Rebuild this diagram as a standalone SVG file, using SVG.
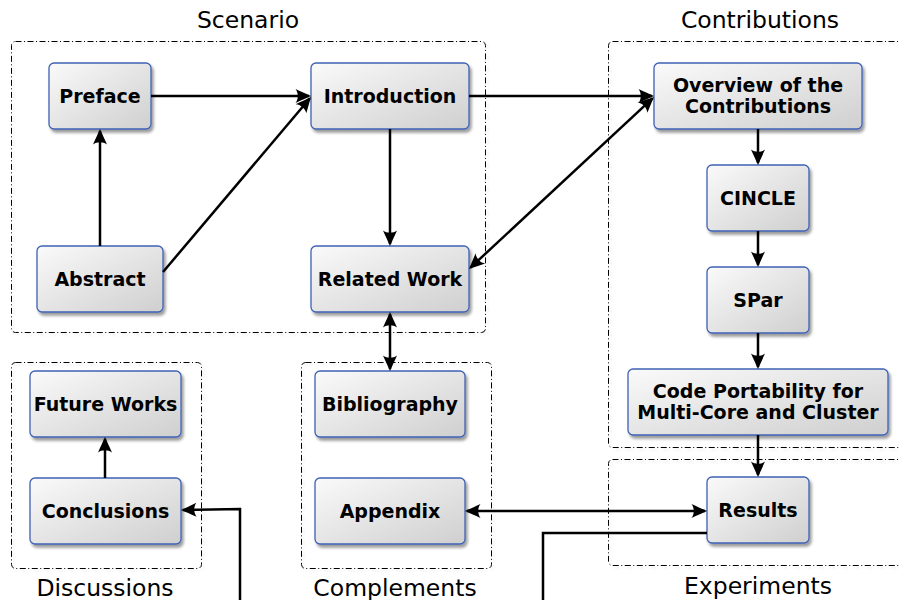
<svg xmlns="http://www.w3.org/2000/svg" width="899" height="600" viewBox="0 0 899 600">
<defs>
<linearGradient id="g" x1="0" y1="0" x2="1" y2="1">
<stop offset="0" stop-color="#fafafa"/>
<stop offset="1" stop-color="#cfcfcf"/>
</linearGradient>
<filter id="sh" x="-10%" y="-10%" width="130%" height="140%">
<feGaussianBlur in="SourceAlpha" stdDeviation="1.6"/>
<feOffset dx="2" dy="2.5" result="b"/>
<feComponentTransfer><feFuncA type="linear" slope="0.4"/></feComponentTransfer>
<feMerge><feMergeNode/><feMergeNode in="SourceGraphic"/></feMerge>
</filter>
<filter id="csh" x="-5%" y="-5%" width="110%" height="110%">
<feGaussianBlur in="SourceAlpha" stdDeviation="1.5"/>
<feOffset dx="1.5" dy="2"/>
<feComponentTransfer><feFuncA type="linear" slope="0.12"/></feComponentTransfer>
<feMerge><feMergeNode/><feMergeNode in="SourceGraphic"/></feMerge>
</filter>
<marker id="ah" markerUnits="userSpaceOnUse" viewBox="-16 -9 20 18" refX="0" refY="0" markerWidth="20" markerHeight="18" orient="auto-start-reverse" overflow="visible">
<path d="M2,0 C-2,-1.8 -8,-4.5 -13.5,-7 C-10.5,-3.2 -10.5,3.2 -13.5,7 C-8,4.5 -2,1.8 2,0 Z" fill="#000"/>
</marker>
<style>
.node rect{fill:url(#g);stroke:#3f62b5;stroke-width:1.3;filter:url(#sh)}
.node text{font-family:"DejaVu Sans",sans-serif;font-weight:bold;font-size:19px;text-anchor:middle;fill:#000}
.cont{fill:none;stroke:#000;stroke-width:1;stroke-dasharray:6,2.5,1,2.5;filter:url(#csh)}
.lbl{font-family:"DejaVu Sans",sans-serif;font-size:23.5px;text-anchor:middle;fill:#000}
.cn path{fill:none;stroke:#000;stroke-width:2.5}
</style>
</defs>
<rect width="899" height="600" fill="#fff"/>
<g id="containers">
<rect class="cont" x="11.5" y="41.5" width="474" height="291" rx="4"/>
<rect class="cont" x="608.5" y="41.5" width="310" height="406" rx="4"/>
<rect class="cont" x="608.5" y="459.5" width="310" height="106" rx="4"/>
<rect class="cont" x="11.5" y="362.5" width="190" height="206" rx="4"/>
<rect class="cont" x="301.5" y="362.5" width="190" height="206" rx="4"/>
<text class="lbl" x="248" y="28">Scenario</text>
<text class="lbl" x="760" y="28">Contributions</text>
<text class="lbl" x="105" y="595.5">Discussions</text>
<text class="lbl" x="395" y="595.5">Complements</text>
<text class="lbl" x="758" y="594">Experiments</text>
</g>
<g id="n-preface" class="node"><rect x="49" y="63" width="102" height="66" rx="5"/><text x="100" y="102.5">Preface</text></g>
<g id="n-intro" class="node"><rect x="311" y="63" width="158" height="66" rx="5"/><text x="390" y="102.5">Introduction</text></g>
<g id="n-abstract" class="node"><rect x="37" y="246" width="126" height="66" rx="5"/><text x="100" y="285.5">Abstract</text></g>
<g id="n-related" class="node"><rect x="311" y="246" width="158" height="66" rx="5"/><text x="390" y="285.5">Related Work</text></g>
<g id="n-overview" class="node"><rect x="654" y="63" width="208" height="66" rx="5"/><text x="758" y="91.5">Overview of the</text><text x="758" y="113">Contributions</text></g>
<g id="n-cincle" class="node"><rect x="707" y="165" width="102" height="66" rx="5"/><text x="758" y="204.5">CINCLE</text></g>
<g id="n-spar" class="node"><rect x="707" y="267" width="102" height="66" rx="5"/><text x="758" y="306.5">SPar</text></g>
<g id="n-code" class="node"><rect x="628" y="369" width="260" height="66" rx="5"/><text x="758" y="397.5">Code Portability for</text><text x="758" y="419">Multi-Core and Cluster</text></g>
<g id="n-results" class="node"><rect x="707" y="477" width="102" height="66" rx="5"/><text x="758" y="516.5">Results</text></g>
<g id="n-future" class="node"><rect x="30" y="371" width="151" height="66" rx="5"/><text x="105.5" y="410.5">Future Works</text></g>
<g id="n-conclusions" class="node"><rect x="30" y="478" width="151" height="66" rx="5"/><text x="105.5" y="517.5">Conclusions</text></g>
<g id="n-biblio" class="node"><rect x="315" y="371" width="150" height="66" rx="5"/><text x="390" y="410.5">Bibliography</text></g>
<g id="n-appendix" class="node"><rect x="315" y="478" width="150" height="66" rx="5"/><text x="390" y="517.5">Appendix</text></g>
<g id="connectors" class="cn">
<path d="M151,96 L309,96" marker-end="url(#ah)"/>
<path d="M100,246 L100,131" marker-end="url(#ah)"/>
<path d="M163,272 L309.7,98.5" marker-end="url(#ah)"/>
<path d="M390,129 L390,244" marker-end="url(#ah)"/>
<path d="M469,96 L652,96" marker-end="url(#ah)"/>
<path d="M470.5,267.6 L652.5,98.4" marker-start="url(#ah)" marker-end="url(#ah)"/>
<path d="M390,314 L390,369" marker-start="url(#ah)" marker-end="url(#ah)"/>
<path d="M758,129 L758,163" marker-end="url(#ah)"/>
<path d="M758,231 L758,265" marker-end="url(#ah)"/>
<path d="M758,333 L758,367" marker-end="url(#ah)"/>
<path d="M758,435 L758,475" marker-end="url(#ah)"/>
<path d="M467,511 L705,511" marker-start="url(#ah)" marker-end="url(#ah)"/>
<path d="M105,478 L105,439" marker-end="url(#ah)"/>
<path d="M240,600 L240,509 L183,510" marker-end="url(#ah)"/>
<path d="M707,533 L543,533 L543,600"/>
</g>
</svg>
